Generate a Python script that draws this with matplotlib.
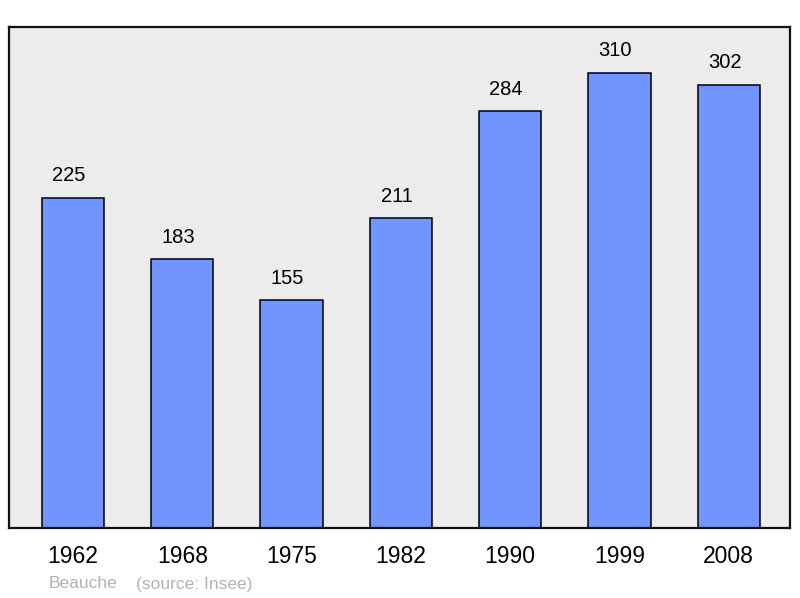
import matplotlib.pyplot as plt

plt.rcParams["font.family"] = ["Liberation Sans", "DejaVu Sans"]

years = ["1962", "1968", "1975", "1982", "1990", "1999", "2008"]
population = [225, 183, 155, 211, 284, 310, 302]
commune = "Beauche"
source = "(source: Insee)"

fig = plt.figure(figsize=(8, 5.98), dpi=100)
ax = fig.add_axes([0.01125, 0.117, 0.97625, 0.838])
ax.set_facecolor("#ececec")

x = list(range(len(years)))
ax.bar(x, population, width=0.57, color="#7095ff", edgecolor="black", linewidth=1.1, zorder=2)

for xi, v in zip(x, population):
    ax.annotate(str(v), (xi, v), xytext=(-3, 9), textcoords="offset points",
                ha="center", va="bottom", fontsize=14.5)

ax.set_xlim(-0.585, 6.56)
ax.set_ylim(0, 341.3)
ax.set_xticks(x)
ax.set_xticklabels(years, fontsize=16.5)
ax.tick_params(axis="x", length=0, pad=12)
ax.set_yticks([])
for s in ax.spines.values():
    s.set_linewidth(1.6)
    s.set_color("#111111")

fig.text(49 / 800, 1 - 584 / 598, commune, color="#b3b3b3", fontsize=12.5, va="center", ha="left")
fig.text(136 / 800, 1 - 584 / 598, source, color="#b3b3b3", fontsize=12.5, va="center", ha="left")

fig.savefig("out.png", dpi=100)
